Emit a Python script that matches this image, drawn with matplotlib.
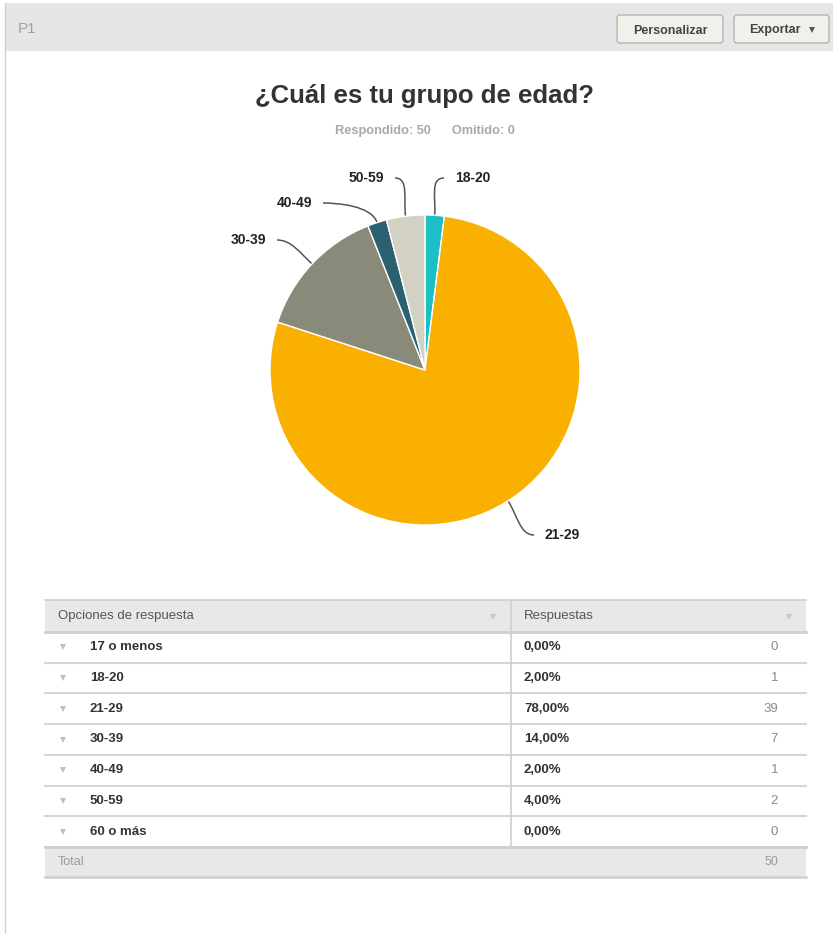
import matplotlib
matplotlib.use("Agg")
import matplotlib.pyplot as plt
from matplotlib.patches import Rectangle, FancyBboxPatch, PathPatch
from matplotlib.path import Path
import numpy as np

plt.rcParams['font.family'] = ['Liberation Sans', 'DejaVu Sans']

# ---------------- data ----------------
question_id = "P1"
title = "¿Cuál es tu grupo de edad?"
answered = 50
skipped = 0
categories = ["17 o menos", "18-20", "21-29", "30-39", "40-49", "50-59", "60 o más"]
counts = [0, 1, 39, 7, 1, 2, 0]
slice_colors = ["#1cbfc6", "#f9b000", "#8a8a7a", "#2a6070", "#d3d1c3", "#bbbbbb", "#cccccc"]
col_headers = ["Opciones de respuesta", "Respuestas"]
buttons = ["Personalizar", "Exportar"]

W, H = 833, 934
fig = plt.figure(figsize=(W / 100, H / 100), dpi=100)
fig.patch.set_facecolor("white")
ax = fig.add_axes([0, 0, 1, 1])
ax.set_xlim(0, W)
ax.set_ylim(H, 0)
ax.axis("off")

# ---------------- page frame ----------------
ax.add_patch(Rectangle((5, 3), W - 5, 48, facecolor="#e6e6e6", edgecolor="none", zorder=1))
ax.plot([5.5, 5.5], [3, H], color="#d0d0d0", lw=1, zorder=2)
ax.text(18, 29, question_id, fontsize=11, color="#a0a0a0", va="center", ha="left")

btn_boxes = [(617, 15, 106, 28), (734, 15, 95, 28)]
text_x = [670, 775]
for (bx, by, bw, bh), label, txx in zip(btn_boxes, buttons, text_x):
    ax.add_patch(FancyBboxPatch((bx, by), bw, bh, boxstyle="round,pad=0,rounding_size=3",
                                facecolor="#f1f1ec", edgecolor="#b4b4b0", lw=1, zorder=3))
    ax.text(txx, by + bh / 2 + 4.5, label, fontsize=9, fontweight="bold",
            color="#444444", ha="center", va="baseline", zorder=4)
ax.plot([812], [29.5], marker="v", markersize=4, color="#555555", markeredgewidth=0, zorder=4)

# ---------------- title ----------------
ax.text(425, 96, title, fontsize=18.5, fontweight="bold", color="#333333", ha="center", va="center")
ax.text(425, 131, f"Respondido: {answered}      Omitido: {skipped}", fontsize=9.2,
        fontweight="bold", color="#a8a8a8", ha="center", va="center")

# ---------------- pie ----------------
cx, cy, R = 425, 370, 155
vals = [c for c in counts if c > 0]
labs = [l for l, c in zip(categories, counts) if c > 0]
cols = slice_colors[:len(vals)]

pax = fig.add_axes([(cx - R) / W, 1 - (cy + R) / H, 2 * R / W, 2 * R / H])
pax.pie(vals, colors=cols, startangle=90, counterclock=False,
        wedgeprops=dict(edgecolor="white", linewidth=1.0))
pax.set_xlim(-1, 1)
pax.set_ylim(-1, 1)
pax.set_aspect("auto")
pax.axis("off")

# label layout (text anchor x, y, alignment)
label_layout = {
    "18-20": (455, 178, "left"),
    "21-29": (545, 535, "left"),
    "30-39": (266, 240, "right"),
    "40-49": (312, 203, "right"),
    "50-59": (384, 178, "right"),
}
total = sum(vals)
cum = 0.0
for v, lab in zip(vals, labs):
    mid = (cum + v / 2) / total * 2 * np.pi
    cum += v
    dx, dy = np.sin(mid), -np.cos(mid)
    p0 = np.array([cx + R * dx, cy + R * dy])
    tx, ty, ha = label_layout[lab]
    sgn = 1 if ha == "left" else -1
    e = np.array([tx - sgn * 11, ty])
    p1 = p0 + np.array([dx, dy]) * 18
    p2 = e - np.array([sgn * 14, 0])
    path = Path([p0, p1, p2, e], [Path.MOVETO, Path.CURVE4, Path.CURVE4, Path.CURVE4])
    ax.add_patch(PathPatch(path, facecolor="none", edgecolor="#555555", lw=1.1, zorder=5))
    ax.text(tx, ty, lab, fontsize=10, fontweight="bold", color="#222222", ha=ha, va="center")

# ---------------- table ----------------
tx0, tx1, tdiv = 45, 806, 511
hy0, hy1 = 600, 632
row_h = (847 - 632) / len(categories)
ax.add_patch(Rectangle((tx0, hy0), tx1 - tx0, hy1 - hy0, facecolor="#e8e8e8", edgecolor="none", zorder=1))
ax.plot([tx0, tx1], [hy0, hy0], color="#cfcfcf", lw=1.2)
ax.plot([tx0, tx1], [hy1, hy1], color="#cfcfcf", lw=2)
ax.text(58, 616, col_headers[0], fontsize=9.5, color="#555555", va="center", ha="left")
ax.text(524, 616, col_headers[1], fontsize=9.5, color="#555555", va="center", ha="left")
ax.plot([493, 789], [617, 617], linestyle="none", marker="v", markersize=4.5,
        color="#c8c8c8", markeredgewidth=0)

n_total = sum(counts)
for i, (cat, c) in enumerate(zip(categories, counts)):
    y0 = hy1 + i * row_h
    yc = y0 + row_h / 2
    ax.plot([63], [yc], marker="v", markersize=4.5, color="#c0c0c0", markeredgewidth=0)
    ax.text(90, yc, cat, fontsize=9.5, fontweight="bold", color="#333333", va="center", ha="left")
    pct = f"{c / n_total * 100:.2f}%".replace(".", ",")
    ax.text(524, yc, pct, fontsize=9.5, fontweight="bold", color="#333333", va="center", ha="left")
    ax.text(778, yc, str(c), fontsize=9.5, color="#8a8a8a", va="center", ha="right")
    ax.plot([tx0, tx1], [y0 + row_h, y0 + row_h], color="#d6d6d6", lw=1.5)

ty0 = hy1 + len(categories) * row_h
ax.add_patch(Rectangle((tx0, ty0), tx1 - tx0, 30, facecolor="#e8e8e8", edgecolor="none", zorder=1))
ax.plot([tx0, tx1], [ty0, ty0], color="#cfcfcf", lw=2)
ax.plot([tx0, tx1], [ty0 + 30, ty0 + 30], color="#d3d3d3", lw=2)
ax.plot([tdiv, tdiv], [hy0, ty0], color="#cfcfcf", lw=1.2)
ax.text(58, ty0 + 15, "Total", fontsize=9, color="#9a9a9a", va="center", ha="left")
ax.text(778, ty0 + 15, str(n_total), fontsize=9, color="#9a9a9a", va="center", ha="right")

fig.savefig("out.png", dpi=100, facecolor="white")
